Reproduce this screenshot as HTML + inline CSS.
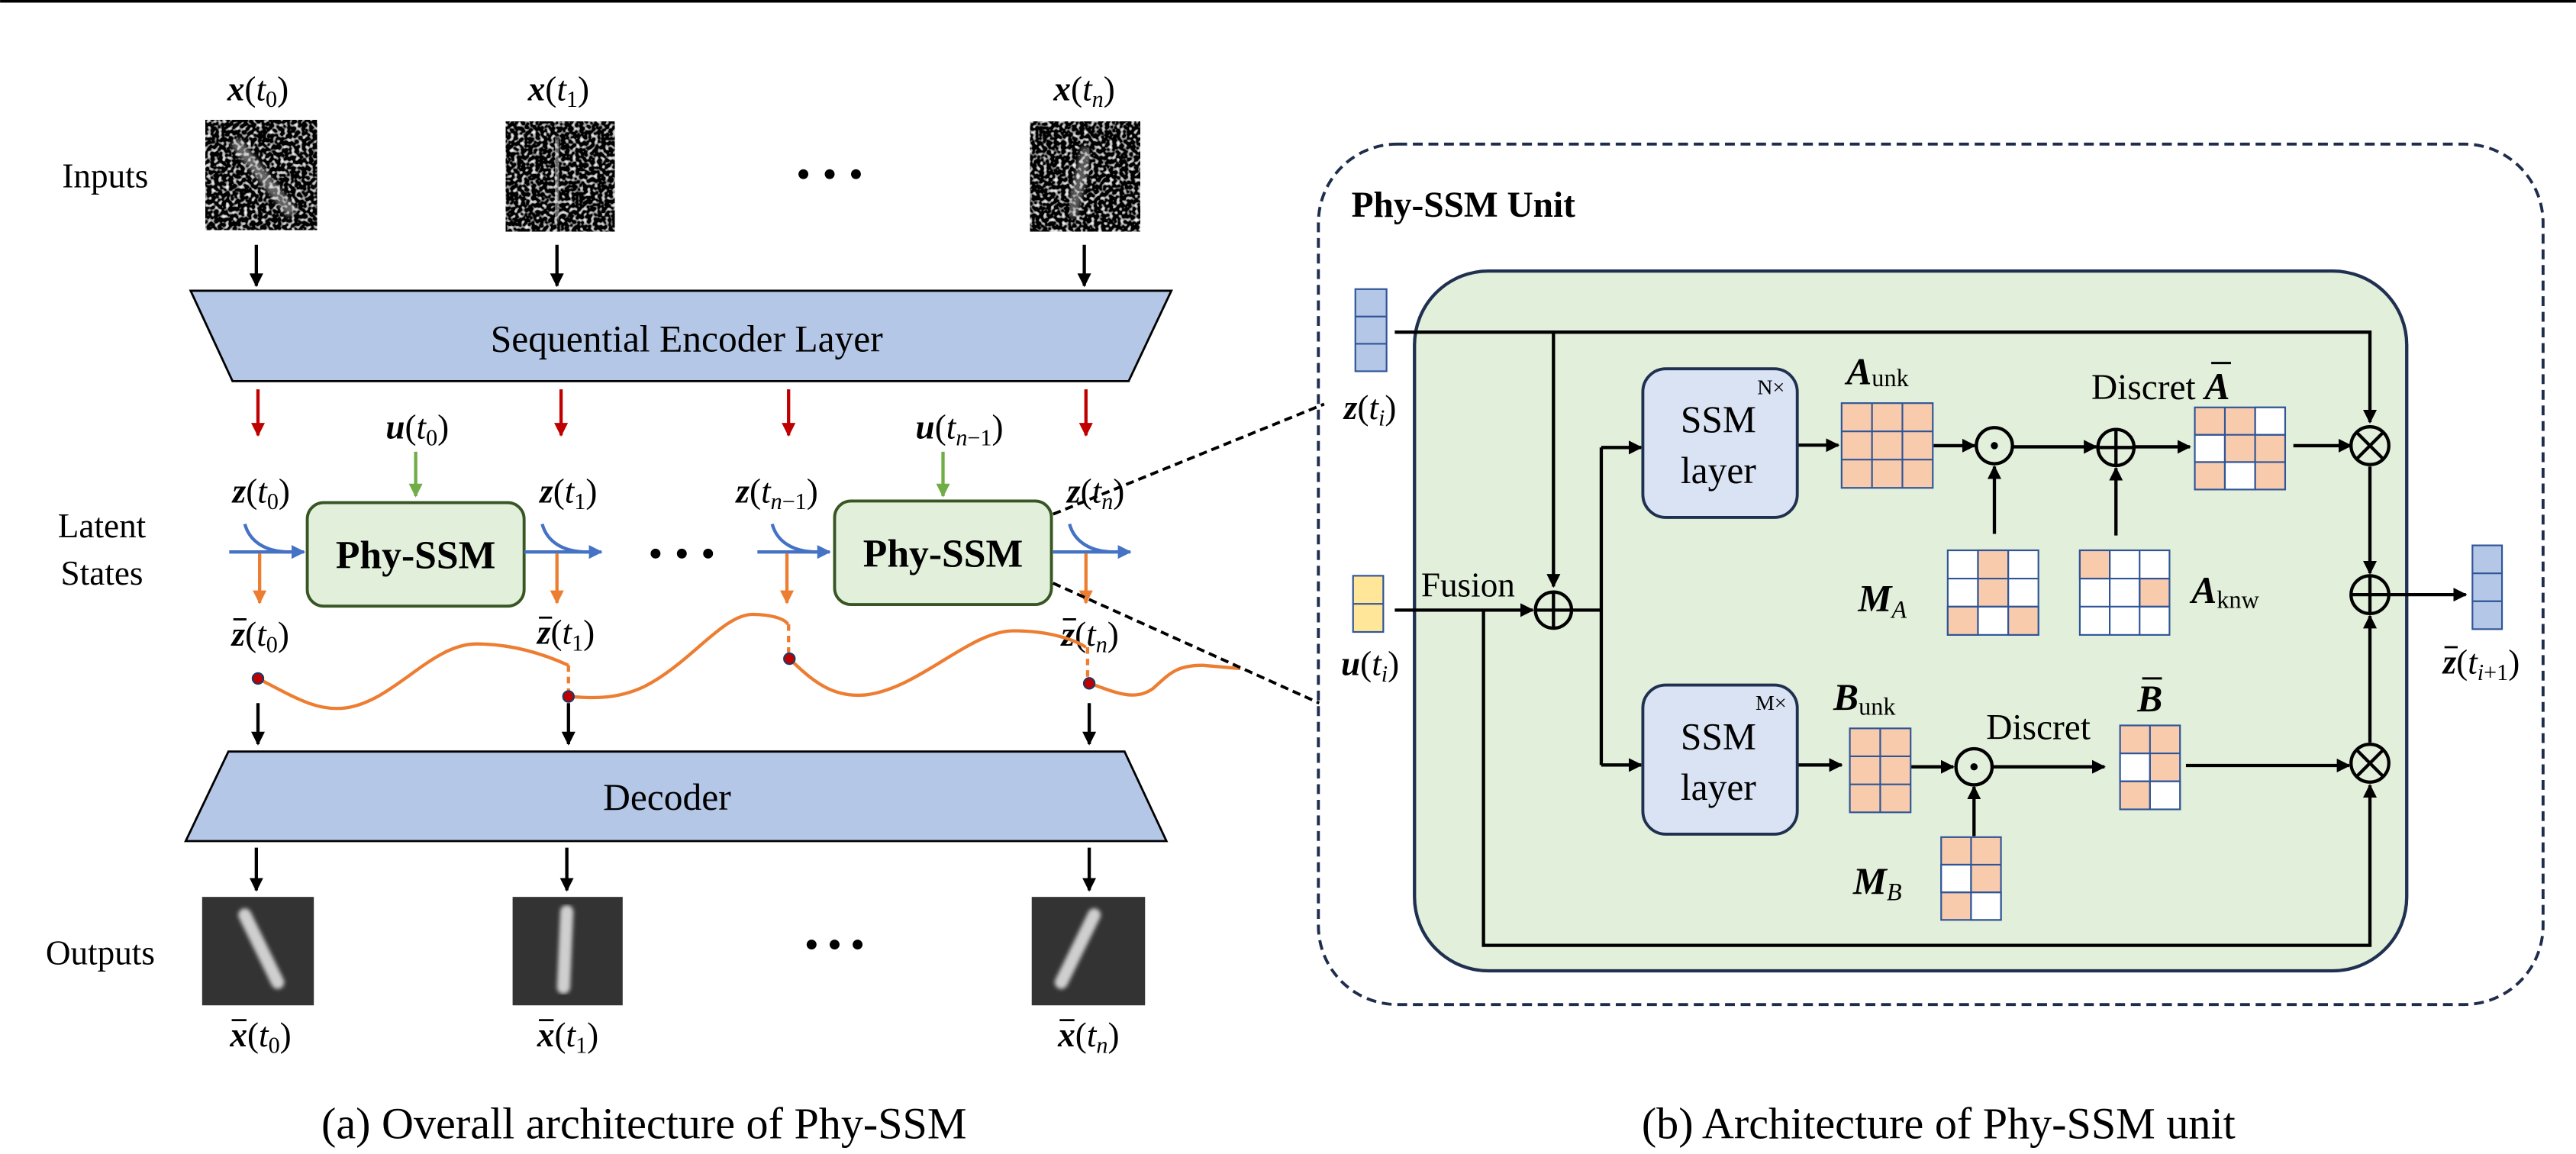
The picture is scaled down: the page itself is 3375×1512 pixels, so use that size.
<!DOCTYPE html>
<html><head><meta charset="utf-8"><style>
html,body{margin:0;padding:0;background:#fff;font-family:"Liberation Serif",serif;}
svg{display:block;font-family:"Liberation Serif",serif;}
svg text, svg tspan{font-family:"Liberation Serif",serif !important;}
.b{font-weight:bold;font-style:italic;}
.i{font-style:italic;}
</style></head><body>
<svg width="3375" height="1512" viewBox="0 0 1568 702.5" xmlns="http://www.w3.org/2000/svg" font-family="'Liberation Serif', serif">
<defs>
<marker id="ak" viewBox="0 0 10 10" refX="9" refY="5" markerWidth="4.2" markerHeight="4.2" orient="auto-start-reverse"><path d="M0,0L10,5L0,10z" fill="#000"/></marker>
<marker id="ar" viewBox="0 0 10 10" refX="9" refY="5" markerWidth="4.2" markerHeight="4.2" orient="auto"><path d="M0,0L10,5L0,10z" fill="#c00000"/></marker>
<marker id="ag" viewBox="0 0 10 10" refX="9" refY="5" markerWidth="4.2" markerHeight="4.2" orient="auto"><path d="M0,0L10,5L0,10z" fill="#70ad47"/></marker>
<marker id="ab" viewBox="0 0 10 10" refX="9" refY="5" markerWidth="4.2" markerHeight="4.2" orient="auto"><path d="M0,0L10,5L0,10z" fill="#4472c4"/></marker>
<marker id="ao" viewBox="0 0 10 10" refX="9" refY="5" markerWidth="4.2" markerHeight="4.2" orient="auto"><path d="M0,0L10,5L0,10z" fill="#ed7d31"/></marker>
<filter id="nz" x="0" y="0" width="100%" height="100%"><feTurbulence type="fractalNoise" baseFrequency="0.45" numOctaves="1" seed="4"/><feColorMatrix type="matrix" values="3.4 0 0 0 -1.75  3.4 0 0 0 -1.75  3.4 0 0 0 -1.75  0 0 0 0 1"/></filter>
<filter id="bl"><feGaussianBlur stdDeviation="1.2"/></filter>
</defs>
<g font-family="'Liberation Serif', serif">
<rect x="0" y="0" width="1568" height="1.6" fill="#000"/>

<text x="64" y="114" font-size="21" text-anchor="middle" font-family="'Liberation Serif', serif">Inputs</text>
<text x="62" y="327" font-size="21" text-anchor="middle" font-family="'Liberation Serif', serif">Latent</text>
<text x="62" y="356" font-size="21" text-anchor="middle" font-family="'Liberation Serif', serif">States</text>
<text x="61" y="587" font-size="21" text-anchor="middle" font-family="'Liberation Serif', serif">Outputs</text>

<g font-size="21" text-anchor="middle">
<text x="157" y="61"><tspan class="b">x</tspan>(<tspan class="i">t</tspan><tspan font-size="14" dy="4">0</tspan><tspan dy="-4">)</tspan></text>
<text x="340" y="61"><tspan class="b">x</tspan>(<tspan class="i">t</tspan><tspan font-size="14" dy="4">1</tspan><tspan dy="-4">)</tspan></text>
<text x="660" y="61"><tspan class="b">x</tspan>(<tspan class="i">t</tspan><tspan font-size="14" dy="4" class="i">n</tspan><tspan dy="-4">)</tspan></text>
</g>
<g>
<rect x="125" y="73" width="68" height="67" filter="url(#nz)"/>
<path d="M143,86 L178,130" stroke="#ccc" stroke-width="7" opacity="0.5" filter="url(#bl)"/>
<rect x="308" y="74" width="66" height="67" filter="url(#nz)"/>
<path d="M338,84 L340,134" stroke="#ccc" stroke-width="7" opacity="0.5" filter="url(#bl)"/>
<rect x="627" y="74" width="67" height="67" filter="url(#nz)"/>
<path d="M662,90 L652,132" stroke="#ccc" stroke-width="7" opacity="0.45" filter="url(#bl)"/>
</g>
<g fill="#000"><circle cx="489" cy="106" r="3"/><circle cx="505" cy="106" r="3"/><circle cx="521" cy="106" r="3"/>
<circle cx="399" cy="337" r="3"/><circle cx="415" cy="337" r="3"/><circle cx="431" cy="337" r="3"/>
<circle cx="494" cy="575" r="3"/><circle cx="508" cy="575" r="3"/><circle cx="522" cy="575" r="3"/></g>

<g stroke="#000" stroke-width="2" marker-end="url(#ak)">
<line x1="156" y1="149" x2="156" y2="174"/><line x1="339" y1="149" x2="339" y2="174"/><line x1="660" y1="149" x2="660" y2="174"/>
<line x1="157" y1="428" x2="157" y2="453"/><line x1="346" y1="428" x2="346" y2="453"/><line x1="663" y1="428" x2="663" y2="453"/>
<line x1="156" y1="516" x2="156" y2="542"/><line x1="345" y1="516" x2="345" y2="542"/><line x1="663" y1="516" x2="663" y2="542"/>
</g>

<polygon points="116,177 713,177 687,232 141.5,232" fill="#b4c7e7" stroke="#000" stroke-width="1.3"/>
<text x="418" y="214" font-size="23" text-anchor="middle">Sequential Encoder Layer</text>
<polygon points="139,457.5 684.5,457.5 710,512 113,512" fill="#b4c7e7" stroke="#000" stroke-width="1.3"/>
<text x="406" y="493" font-size="23" text-anchor="middle">Decoder</text>

<g stroke="#c00000" stroke-width="2" marker-end="url(#ar)">
<line x1="157" y1="237" x2="157" y2="265"/><line x1="341.5" y1="237" x2="341.5" y2="265"/><line x1="480" y1="237" x2="480" y2="265"/><line x1="661" y1="237" x2="661" y2="265"/>
</g>
<g stroke="#70ad47" stroke-width="2" marker-end="url(#ag)">
<line x1="253" y1="275" x2="253" y2="302"/><line x1="574" y1="275" x2="574" y2="302"/>
</g>
<g font-size="21" text-anchor="middle">
<text x="254" y="267"><tspan class="b">u</tspan>(<tspan class="i">t</tspan><tspan font-size="14" dy="4">0</tspan><tspan dy="-4">)</tspan></text>
<text x="584" y="267"><tspan class="b">u</tspan>(<tspan class="i">t</tspan><tspan font-size="14" dy="4"><tspan class="i">n</tspan>−1</tspan><tspan dy="-4">)</tspan></text>
<text x="159" y="306"><tspan class="b">z</tspan>(<tspan class="i">t</tspan><tspan font-size="14" dy="4">0</tspan><tspan dy="-4">)</tspan></text>
<text x="346" y="306"><tspan class="b">z</tspan>(<tspan class="i">t</tspan><tspan font-size="14" dy="4">1</tspan><tspan dy="-4">)</tspan></text>
<text x="473" y="306"><tspan class="b">z</tspan>(<tspan class="i">t</tspan><tspan font-size="14" dy="4"><tspan class="i">n</tspan>−1</tspan><tspan dy="-4">)</tspan></text>
<text x="667" y="306"><tspan class="b">z</tspan>(<tspan class="i">t</tspan><tspan font-size="14" dy="4" class="i">n</tspan><tspan dy="-4">)</tspan></text>
</g>
<g font-size="21">
<text x="141" y="393"><tspan class="b">z</tspan>(<tspan class="i">t</tspan><tspan font-size="14" dy="4">0</tspan><tspan dy="-4">)</tspan></text>
<text x="327" y="392"><tspan class="b">z</tspan>(<tspan class="i">t</tspan><tspan font-size="14" dy="4">1</tspan><tspan dy="-4">)</tspan></text>
<text x="646" y="393"><tspan class="b">z</tspan>(<tspan class="i">t</tspan><tspan font-size="14" dy="4" class="i">n</tspan><tspan dy="-4">)</tspan></text>
<text x="140" y="637"><tspan class="b">x</tspan>(<tspan class="i">t</tspan><tspan font-size="14" dy="4">0</tspan><tspan dy="-4">)</tspan></text>
<text x="327" y="637"><tspan class="b">x</tspan>(<tspan class="i">t</tspan><tspan font-size="14" dy="4">1</tspan><tspan dy="-4">)</tspan></text>
<text x="644" y="637"><tspan class="b">x</tspan>(<tspan class="i">t</tspan><tspan font-size="14" dy="4" class="i">n</tspan><tspan dy="-4">)</tspan></text>
</g>
<g stroke="#000" stroke-width="1.3">
<line x1="142" y1="377" x2="150" y2="377"/><line x1="328" y1="376" x2="336" y2="376"/><line x1="647" y1="377" x2="655" y2="377"/>
<line x1="141" y1="621" x2="150" y2="621"/><line x1="328" y1="621" x2="337" y2="621"/><line x1="645" y1="621" x2="654" y2="621"/>
</g>

<rect x="187" y="306" width="132" height="63" rx="10" fill="#e2efda" stroke="#375623" stroke-width="1.8"/>
<rect x="508" y="305" width="132" height="63" rx="10" fill="#e2efda" stroke="#375623" stroke-width="1.8"/>
<text x="253" y="346" font-size="24" font-weight="bold" text-anchor="middle">Phy-SSM</text>
<text x="574" y="345" font-size="24" font-weight="bold" text-anchor="middle">Phy-SSM</text>

<g stroke="#4472c4" stroke-width="2" fill="none">
<line x1="139.5" y1="336" x2="185" y2="336" marker-end="url(#ab)"/>
<line x1="319" y1="336" x2="366" y2="336" marker-end="url(#ab)"/>
<line x1="461" y1="336" x2="505" y2="336" marker-end="url(#ab)"/>
<line x1="641" y1="336" x2="688" y2="336" marker-end="url(#ab)"/>
<path d="M149,319 C152,330 162,336 176,336"/><path d="M330,319 C333,330 343,336 357,336"/>
<path d="M470,319 C473,330 483,336 497,336"/><path d="M651,319 C654,330 664,336 678,336"/>
</g>
<g stroke="#ed7d31" stroke-width="2" marker-end="url(#ao)">
<line x1="158" y1="337" x2="158" y2="367"/><line x1="339" y1="337" x2="339" y2="367"/><line x1="479" y1="337" x2="479" y2="367"/><line x1="661" y1="337" x2="661" y2="367"/>
</g>
<g stroke="#ed7d31" stroke-width="2" fill="none">
<path d="M157,413 C180,425 193,433 210,431 C240,427 262,392 290,392 C315,392 335,400 346,405"/>
<path d="M346,424 C360,425 375,426 392,418 C420,404 440,374 458,374 C470,374 478,377 479.5,380"/>
<path d="M480.5,401 C495,415 507,425 527,423 C560,419 590,384 617,384 C640,384 655,390 661,394"/>
<path d="M663,416 C676,420 690,428 702,419 C712,410 716,405 732,405 L755,407"/>
<g stroke-dasharray="4,3"><line x1="346" y1="405" x2="346" y2="424"/><line x1="480" y1="380" x2="480" y2="401"/><line x1="662" y1="394" x2="662" y2="416"/></g>
</g>
<g fill="#c00000" stroke="#1f3864" stroke-width="1"><circle cx="157" cy="413" r="3.3"/><circle cx="346" cy="424" r="3.3"/><circle cx="480.5" cy="401" r="3.3"/><circle cx="663" cy="416" r="3.3"/></g>

<rect x="123" y="546" width="68" height="66" fill="#333"/>
<rect x="312" y="546" width="67" height="66" fill="#333"/>
<rect x="628" y="546" width="69" height="66" fill="#333"/>
<g stroke="#cfcfcf" stroke-width="8" stroke-linecap="round" filter="url(#bl)">
<line x1="149" y1="557" x2="169" y2="598"/><line x1="345" y1="555" x2="343" y2="601"/><line x1="666" y1="557" x2="646" y2="598"/>
</g>

<g stroke="#000" stroke-width="1.8" stroke-dasharray="5,3">
<line x1="641" y1="313" x2="806" y2="246"/><line x1="641" y1="355" x2="803" y2="428"/>
</g>

<text x="392" y="693" font-size="27" text-anchor="middle">(a) Overall architecture of Phy-SSM</text>
<text x="1180" y="693" font-size="27" text-anchor="middle">(b) Architecture of Phy-SSM unit</text>

<rect x="802.5" y="87.7" width="745.5" height="523.8" rx="48" fill="none" stroke="#1f2d4d" stroke-width="1.8" stroke-dasharray="6,3.5"/>
<text x="822.6" y="132" font-size="22" font-weight="bold">Phy-SSM Unit</text>
<rect x="861" y="165" width="604" height="426" rx="45" fill="#e2efda" stroke="#1f3050" stroke-width="2"/>

<g stroke="#2f5597" stroke-width="1">
<rect x="825" y="176" width="19" height="50" fill="#b4c7e7"/><line x1="825" y1="192.7" x2="844" y2="192.7"/><line x1="825" y1="209.3" x2="844" y2="209.3"/>
<rect x="823.6" y="350.5" width="18.4" height="34.2" fill="#ffe699"/><line x1="823.6" y1="367.6" x2="842" y2="367.6"/>
<rect x="1505" y="332" width="18" height="51" fill="#b4c7e7"/><line x1="1505" y1="349" x2="1523" y2="349"/><line x1="1505" y1="366" x2="1523" y2="366"/>
</g>
<g font-size="21" text-anchor="middle">
<text x="834" y="255"><tspan class="b">z</tspan>(<tspan class="i">t</tspan><tspan font-size="14" dy="4" class="i">i</tspan><tspan dy="-4">)</tspan></text>
<text x="834" y="411"><tspan class="b">u</tspan>(<tspan class="i">t</tspan><tspan font-size="14" dy="4" class="i">i</tspan><tspan dy="-4">)</tspan></text>
</g>
<text x="1487" y="410" font-size="21"><tspan class="b">z</tspan>(<tspan class="i">t</tspan><tspan font-size="14" dy="4"><tspan class="i">i</tspan>+1</tspan><tspan dy="-4">)</tspan></text>
<line x1="1488" y1="394" x2="1496" y2="394" stroke="#000" stroke-width="1.3"/>

<g stroke="#000" stroke-width="2" fill="none">
<polyline points="849,202.2 1442.6,202.2 1442.6,257" marker-end="url(#ak)"/>
<line x1="945.6" y1="202.2" x2="945.6" y2="357" marker-end="url(#ak)"/>
<line x1="849" y1="371.4" x2="933" y2="371.4" marker-end="url(#ak)"/>
<polyline points="903,371.4 903,575.5 1442.6,575.5 1442.6,478" marker-end="url(#ak)"/>
<line x1="957" y1="371.4" x2="974.7" y2="371.4"/>
<line x1="974.7" y1="272.4" x2="974.7" y2="465.7"/>
<line x1="974.7" y1="272.4" x2="999" y2="272.4" marker-end="url(#ak)"/>
<line x1="974.7" y1="465.7" x2="999" y2="465.7" marker-end="url(#ak)"/>
<line x1="1094" y1="271" x2="1119" y2="271" marker-end="url(#ak)"/>
<line x1="1177" y1="271.3" x2="1202" y2="271.3" marker-end="url(#ak)"/>
<line x1="1214" y1="325" x2="1214" y2="284" marker-end="url(#ak)"/>
<line x1="1225" y1="272" x2="1276" y2="272" marker-end="url(#ak)"/>
<line x1="1288" y1="326" x2="1288" y2="285" marker-end="url(#ak)"/>
<line x1="1299" y1="272" x2="1333" y2="272" marker-end="url(#ak)"/>
<line x1="1396" y1="271.3" x2="1431" y2="271.3" marker-end="url(#ak)"/>
<line x1="1442.6" y1="284" x2="1442.6" y2="349" marker-end="url(#ak)"/>
<line x1="1455" y1="362" x2="1501" y2="362" marker-end="url(#ak)"/>
<line x1="1094" y1="465.7" x2="1121" y2="465.7" marker-end="url(#ak)"/>
<line x1="1163" y1="466.8" x2="1189" y2="466.8" marker-end="url(#ak)"/>
<line x1="1201.6" y1="509" x2="1201.6" y2="479" marker-end="url(#ak)"/>
<line x1="1213" y1="466.8" x2="1281" y2="466.8" marker-end="url(#ak)"/>
<line x1="1330.6" y1="466" x2="1430" y2="466" marker-end="url(#ak)"/>
<line x1="1442.6" y1="452" x2="1442.6" y2="375" marker-end="url(#ak)"/>
</g>

<g stroke="#000" stroke-width="2" fill="none">
<circle cx="945.6" cy="371.4" r="11"/><line x1="934.6" y1="371.4" x2="956.6" y2="371.4"/><line x1="945.6" y1="360.4" x2="945.6" y2="382.4"/>
<circle cx="1288" cy="272.4" r="11"/><line x1="1277" y1="272.4" x2="1299" y2="272.4"/><line x1="1288" y1="261.4" x2="1288" y2="283.4"/>
<circle cx="1442.6" cy="362" r="11.5"/><line x1="1431.1" y1="362" x2="1454.1" y2="362"/><line x1="1442.6" y1="350.5" x2="1442.6" y2="373.5"/>
<circle cx="1214" cy="271.3" r="11"/><circle cx="1201.6" cy="466.8" r="11"/>
<circle cx="1442.6" cy="271.3" r="11.5"/><line x1="1434.5" y1="263.2" x2="1450.7" y2="279.4"/><line x1="1450.7" y1="263.2" x2="1434.5" y2="279.4"/>
<circle cx="1442.6" cy="464.6" r="11.5"/><line x1="1434.5" y1="456.5" x2="1450.7" y2="472.7"/><line x1="1450.7" y1="456.5" x2="1434.5" y2="472.7"/>
</g>
<circle cx="1214" cy="271.3" r="2.2" fill="#000"/><circle cx="1201.6" cy="466.8" r="2.2" fill="#000"/>
<text x="865" y="363" font-size="21">Fusion</text>

<rect x="1000" y="224.5" width="94" height="90.5" rx="14" fill="#dae3f3" stroke="#1f3050" stroke-width="1.8"/>
<rect x="1000" y="417" width="94" height="90.8" rx="14" fill="#dae3f3" stroke="#1f3050" stroke-width="1.8"/>
<g text-anchor="middle">
<text x="1078" y="240" font-size="13">N×</text>
<text x="1046" y="263" font-size="23">SSM</text>
<text x="1046" y="294" font-size="23">layer</text>
<text x="1078" y="432" font-size="13">M×</text>
<text x="1046" y="456" font-size="23">SSM</text>
<text x="1046" y="487" font-size="23">layer</text>
</g>

<g stroke="#2f5597" stroke-width="1">
<rect x="1121" y="245.4" width="55.5" height="51.6" fill="#f8cbad"/>
<line x1="1139.5" y1="245.4" x2="1139.5" y2="297"/><line x1="1158" y1="245.4" x2="1158" y2="297"/>
<line x1="1121" y1="262.6" x2="1176.5" y2="262.6"/><line x1="1121" y1="279.8" x2="1176.5" y2="279.8"/>
<rect x="1185.6" y="335" width="55.2" height="51.5" fill="#fff"/>
<rect x="1204" y="335" width="18.4" height="34.3" fill="#f8cbad"/>
<rect x="1185.6" y="369.3" width="18.4" height="17.2" fill="#f8cbad"/><rect x="1222.4" y="369.3" width="18.4" height="17.2" fill="#f8cbad"/>
<line x1="1204" y1="335" x2="1204" y2="386.5"/><line x1="1222.4" y1="335" x2="1222.4" y2="386.5"/>
<line x1="1185.6" y1="352.2" x2="1240.8" y2="352.2"/><line x1="1185.6" y1="369.3" x2="1240.8" y2="369.3"/>
<rect x="1266" y="335" width="54.6" height="51.5" fill="#fff"/>
<rect x="1266" y="335" width="18.2" height="17.2" fill="#f8cbad"/><rect x="1302.4" y="352.2" width="18.2" height="17.1" fill="#f8cbad"/>
<line x1="1284.2" y1="335" x2="1284.2" y2="386.5"/><line x1="1302.4" y1="335" x2="1302.4" y2="386.5"/>
<line x1="1266" y1="352.2" x2="1320.6" y2="352.2"/><line x1="1266" y1="369.3" x2="1320.6" y2="369.3"/>
<rect x="1336" y="248" width="55" height="50" fill="#f8cbad"/>
<rect x="1372.7" y="248" width="18.3" height="16.7" fill="#fff"/><rect x="1336" y="264.7" width="18.3" height="16.6" fill="#fff"/><rect x="1354.3" y="281.3" width="18.4" height="16.7" fill="#fff"/>
<line x1="1354.3" y1="248" x2="1354.3" y2="298"/><line x1="1372.7" y1="248" x2="1372.7" y2="298"/>
<line x1="1336" y1="264.7" x2="1391" y2="264.7"/><line x1="1336" y1="281.3" x2="1391" y2="281.3"/>
<rect x="1126" y="443.4" width="37" height="51.1" fill="#f8cbad"/>
<line x1="1144.5" y1="443.4" x2="1144.5" y2="494.5"/><line x1="1126" y1="460.4" x2="1163" y2="460.4"/><line x1="1126" y1="477.5" x2="1163" y2="477.5"/>
<rect x="1181.6" y="509.6" width="36.4" height="50.4" fill="#f8cbad"/>
<rect x="1181.6" y="526.4" width="18.2" height="16.8" fill="#fff"/><rect x="1199.8" y="543.2" width="18.2" height="16.8" fill="#fff"/>
<line x1="1199.8" y1="509.6" x2="1199.8" y2="560"/><line x1="1181.6" y1="526.4" x2="1218" y2="526.4"/><line x1="1181.6" y1="543.2" x2="1218" y2="543.2"/>
<rect x="1290.5" y="441.6" width="36.5" height="51.1" fill="#f8cbad"/>
<rect x="1290.5" y="458.6" width="18.2" height="17" fill="#fff"/><rect x="1308.7" y="475.6" width="18.3" height="17.1" fill="#fff"/>
<line x1="1308.7" y1="441.6" x2="1308.7" y2="492.7"/><line x1="1290.5" y1="458.6" x2="1327" y2="458.6"/><line x1="1290.5" y1="475.6" x2="1327" y2="475.6"/>
</g>

<text x="1124" y="234" font-size="23"><tspan class="b">A</tspan><tspan font-size="15" dy="1">unk</tspan></text>
<text x="1273" y="243" font-size="22">Discret <tspan class="b" font-size="23">A</tspan></text>
<line x1="1346" y1="221" x2="1358" y2="221" stroke="#000" stroke-width="1.4"/>
<text x="1131" y="372" font-size="23"><tspan class="b">M</tspan><tspan font-size="15" dy="4" class="i">A</tspan></text>
<text x="1334" y="367" font-size="23"><tspan class="b">A</tspan><tspan font-size="15" dy="3">knw</tspan></text>
<text x="1116" y="432" font-size="23"><tspan class="b">B</tspan><tspan font-size="15" dy="3">unk</tspan></text>
<text x="1209" y="450" font-size="22">Discret</text>
<text x="1301" y="433" font-size="23" class="b">B</text>
<line x1="1304" y1="413" x2="1316" y2="413" stroke="#000" stroke-width="1.4"/>
<text x="1128" y="544" font-size="23"><tspan class="b">M</tspan><tspan font-size="15" dy="4" class="i">B</tspan></text>
</g>
</svg>
</body></html>
